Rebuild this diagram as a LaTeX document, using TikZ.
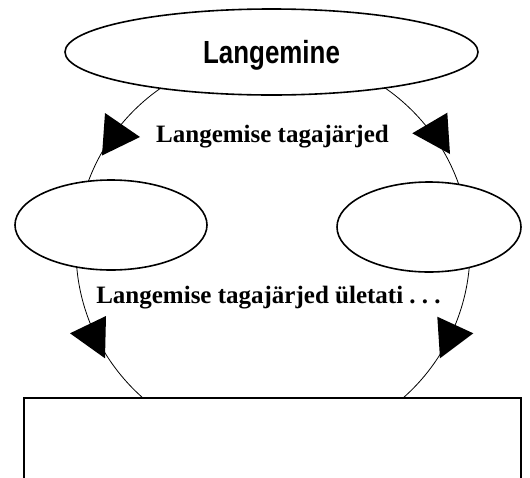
\documentclass[tikz,border=0pt]{standalone}
\usepackage{fontspec}
\usepackage{graphicx}
\setmainfont{Liberation Serif}
\newfontfamily\headfont{Liberation Sans}
\usetikzlibrary{shapes.geometric,backgrounds}
\tikzset{
  oval/.style={ellipse, draw, line width=1.6pt, fill=white, inner sep=0pt},
  conn/.style={line width=0.8pt},
  lbl/.style={font=\fontsize{25}{28}\selectfont\bfseries, anchor=base, inner sep=0pt},
  tip/.style={fill=black},
}
\begin{document}
\begin{tikzpicture}[x=1pt,y=-1pt]
\clip (0,0) rectangle (530,477);
% nodes
\node[oval, minimum width=413pt, minimum height=86pt, text height=23pt, text depth=0pt,
      font=\headfont\fontsize{32}{36}\selectfont\bfseries] (top) at (271.5,52) {\scalebox{0.81}[1]{Langemine}};
\node[oval, minimum width=192pt, minimum height=90pt] (left) at (111,225) {};
\node[oval, minimum width=184pt, minimum height=90pt] (right) at (429,227) {};
\node[draw, line width=1.6pt, fill=white, minimum width=497pt, minimum height=120pt, anchor=north west] (box) at (23,397) {};
% labels
\node[lbl] (lab1) at (272.5,142) {Langemise tagajärjed};
\node[lbl] (lab2) at (268.5,303) {Langemise tagajärjed ületati~.~.~.};
% connectors (arcs of one circle through the nodes, hidden where they enter the nodes)
\begin{pgfonlayer}{background}
\fill[white] (0,0) rectangle (530,477);
\coordinate (c) at (273,250);
\draw[conn] (c) ++(250:197) arc[start angle=250, end angle=190, radius=197];
\draw[conn] (c) ++(176:197) arc[start angle=176, end angle=115, radius=197];
\draw[conn] (c) ++(65:197) arc[start angle=65, end angle=3, radius=197];
\draw[conn] (c) ++(-10:197) arc[start angle=-10, end angle=-70, radius=197];
\end{pgfonlayer}
% arrowheads
\fill[tip] (105,113) -- (140,137) -- (102,155.5) -- cycle;
\fill[tip] (447.3,112.7) -- (412.3,133.3) -- (450,154) -- cycle;
\fill[tip] (106,316) -- (70,333.3) -- (105,358.3) -- cycle;
\fill[tip] (437.3,316.7) -- (473.3,333.3) -- (440,358.3) -- cycle;
\end{tikzpicture}
\end{document}
